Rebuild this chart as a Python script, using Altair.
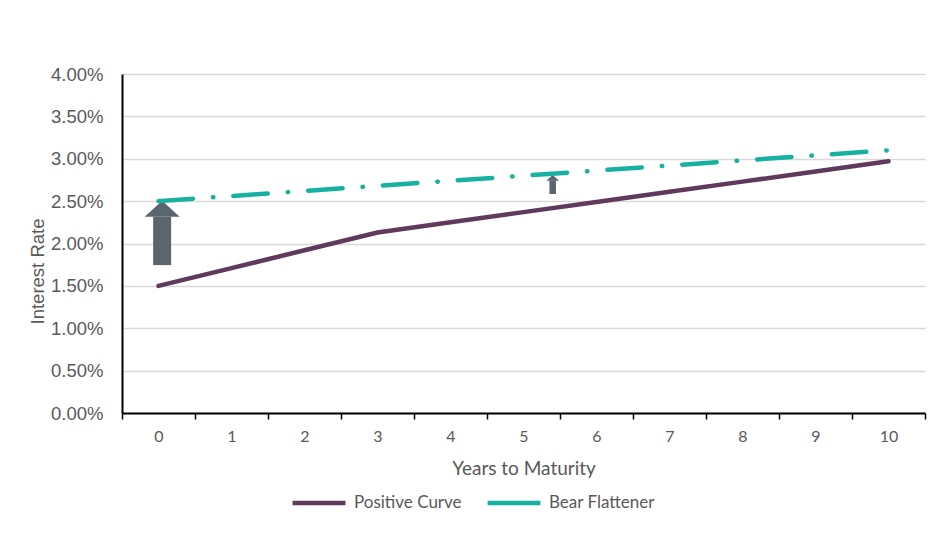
import altair as alt
import pandas as pd

# ---- data ----
years = [0, 1, 2, 3, 4, 5, 6, 7, 8, 9, 10]
positive_curve = [0.0150, 0.0171, 0.0192, 0.0213, 0.0225, 0.0237, 0.0249, 0.0261, 0.0273, 0.0285, 0.0297]
bear_flattener = [0.0250, 0.0256, 0.0262, 0.0268, 0.0274, 0.0280, 0.0286, 0.0292, 0.0298, 0.0304, 0.0310]
series_names = ["Positive Curve", "Bear Flattener"]
y_ticks = [0, 0.005, 0.01, 0.015, 0.02, 0.025, 0.03, 0.035, 0.04]

# arrows (shift annotations)
arrow_x = [0.05, 5.40]
arrow_base = [0.01745, 0.02584]
arrow_neck = [0.02315, 0.02741]
arrow_shaft_w = [18, 6.5]
arrow_head_size = [1225, 160]

PURPLE = "#603A5C"
TEAL = "#17B1A1"
GRAY = "#5A656E"
TXT = "#595959"

pos_df = pd.DataFrame({"year": years, "rate": positive_curve, "series": series_names[0]})
bear_df = pd.DataFrame({"year": years, "rate": bear_flattener, "series": series_names[1]})

arrows_df = pd.DataFrame({"x": arrow_x, "base": arrow_base, "neck": arrow_neck,
                          "w": arrow_shaft_w, "s": arrow_head_size})

W, H = 803, 339
band = W / 11.0

x_scale = alt.Scale(domain=[-0.5, 10.5], nice=False, zero=False)
y_scale = alt.Scale(domain=[0, 0.04], nice=False)
color_scale = alt.Scale(domain=series_names, range=[PURPLE, TEAL])

x_axis = alt.Axis(
    title="Years to Maturity",
    values=[y - 0.5 for y in years] + [years[-1] + 0.5],
    labelExpr="datum.value < 10 ? format(datum.value + 0.5, 'd') : ''",
    labelOffset=band / 2,
    labelFlush=False,
    labelOverlap=False,
    labelBound=False,
    grid=False,
    domainColor="black", domainWidth=2,
    tickColor="black", tickWidth=1.5, tickSize=6,
    labelFont="Lato", labelFontSize=16, labelColor=TXT, labelPadding=9,
    titleFont="Lato", titleFontSize=19, titleFontWeight="normal", titleColor=TXT,
    titlePadding=15,
)
y_axis = alt.Axis(
    title="Interest Rate",
    values=y_ticks, format=".2%",
    grid=True, gridColor="#D9D9D9", gridWidth=1.5,
    domainColor="black", domainWidth=2,
    ticks=False, tickSize=0,
    labelFont="Liberation Sans", labelFontSize=18.5, labelColor=TXT, labelPadding=19,
    titleFont="Liberation Sans", titleFontSize=18.5, titleFontWeight="normal", titleColor=TXT,
    titleBaseline="middle", titleX=-85, titleY=197, titleAngle=-90,
)

legend = alt.Legend(
    title=None, orient="none", direction="horizontal",
    legendX=168, legendY=400,
    symbolType="stroke", symbolSize=2800, symbolStrokeWidth=4.5,
    labelFont="Lato", labelFontSize=17, labelColor=TXT,
    labelOffset=6, columnPadding=16, padding=0,
)

shafts = alt.Chart(arrows_df).mark_rule(color=GRAY, strokeCap="butt").encode(
    x=alt.X("x:Q", scale=x_scale, axis=x_axis),
    y=alt.Y("base:Q", scale=y_scale, axis=y_axis),
    y2="neck:Q",
    strokeWidth=alt.StrokeWidth("w:Q", scale=None),
)
heads = alt.Chart(arrows_df).mark_point(
    shape="M-1,0L0,-0.92L1,0Z", filled=True, fill=GRAY, opacity=1, strokeWidth=0
).encode(
    x=alt.X("x:Q", scale=x_scale),
    y=alt.Y("neck:Q", scale=y_scale),
    size=alt.Size("s:Q", scale=None),
)

pos_line = alt.Chart(pos_df).mark_line(strokeWidth=4.5, strokeCap="round", strokeJoin="round").encode(
    x=alt.X("year:Q", scale=x_scale),
    y=alt.Y("rate:Q", scale=y_scale),
    color=alt.Color("series:N", scale=color_scale, legend=legend),
    order="year:Q",
)
bear_line = alt.Chart(bear_df).mark_line(strokeWidth=4.5, strokeCap="round", strokeJoin="round",
                                         strokeDash=[34.5, 20, 0.5, 20]).encode(
    x=alt.X("year:Q", scale=x_scale),
    y=alt.Y("rate:Q", scale=y_scale),
    color=alt.Color("series:N", scale=color_scale, legend=legend),
    order="year:Q",
)

chart = alt.layer(shafts, heads, pos_line, bear_line).properties(
    width=W, height=H,
    autosize=alt.AutoSizeParams(type="none"),
    padding={"left": 114, "top": 66, "right": 9, "bottom": 117},
    background="white",
).configure_view(stroke=None)

chart.save("out.html", embed_options={"renderer": "svg", "actions": False})
